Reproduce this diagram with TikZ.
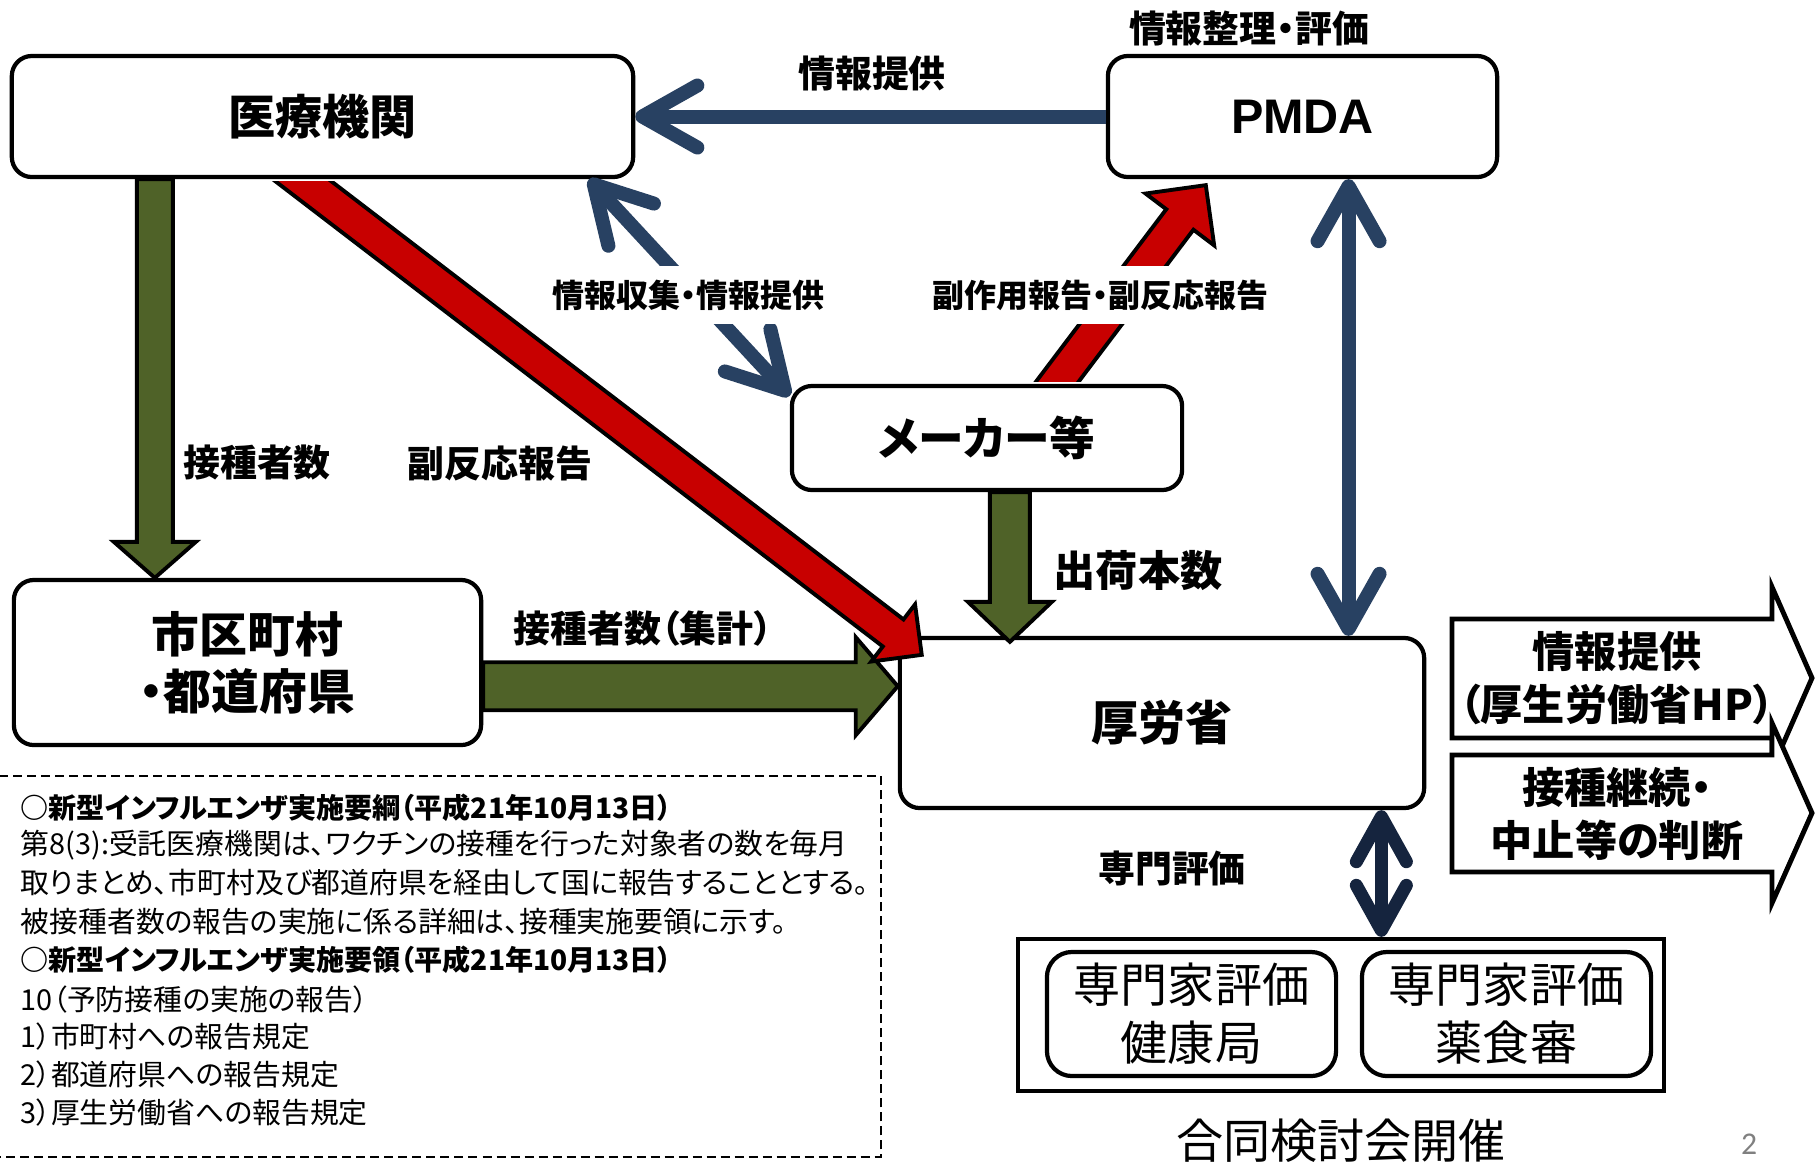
\documentclass[tikz,border=0pt]{standalone}
\usepackage{fontspec}
\setmainfont{Noto Sans CJK JP}[RawFeature=+palt]
\newfontfamily\latinfont{Liberation Sans}
\newfontfamily\pagefont{Carlito}
\usetikzlibrary{calc,positioning,arrows.meta}

\definecolor{infoblue}{RGB}{40,65,98}
\definecolor{deepnavy}{RGB}{21,36,62}
\definecolor{reportred}{RGB}{200,0,0}
\definecolor{countgreen}{RGB}{79,98,40}

% fat outlined arrow: from, to, shaft half width, head half width, head length, style
\newcommand{\fatarrow}[6]{%
  \coordinate (fa-h) at ($(#2)!#5!(#1)$);
  \draw[#6] ($(#1)!#3!90:(#2)$) -- ($(fa-h)!#3!90:(#2)$) -- ($(fa-h)!#4!90:(#2)$)
    -- (#2) -- ($(fa-h)!#4!-90:(#2)$) -- ($(fa-h)!#3!-90:(#2)$) -- ($(#1)!#3!-90:(#2)$) -- cycle;
}

\begin{document}
\begin{tikzpicture}[
    x=0.01cm, y=-0.01cm,
    box/.style={draw,line width=1.2pt,rounded corners=0.2cm,fill=white,inner sep=0pt,
                font=\fontsize{13.4pt}{16pt}\selectfont\bfseries},
    expertbox/.style={box,rounded corners=0.25cm,minimum width=2.89cm,minimum height=1.24cm,
                align=center,font=\fontsize{13.4pt}{16.5pt}\selectfont},
    lbl/.style={inner sep=0pt,font=\fontsize{10.5pt}{12pt}\selectfont\bfseries},
    cutlbl/.style={fill=white,inner xsep=0.04cm,inner ysep=0.14cm,
                font=\fontsize{9.1pt}{11pt}\selectfont\bfseries},
    bluearr/.style={draw=infoblue,line width=0.14cm,
                >={Straight Barb[length=0.55cm,width=0.62cm,round]}},
    navyarr/.style={draw=deepnavy,line width=0.13cm,
                >={Straight Barb[length=0.45cm,width=0.5cm,round]}},
    redfat/.style={fill=reportred,draw=black,line width=1.1pt,line join=miter},
    greenfat/.style={fill=countgreen,draw=black,line width=1.1pt,line join=miter},
    sidearrow/.style={fill=white,draw=black,line width=1.4pt,line join=miter},
    sidetext/.style={align=center,inner sep=0pt,font=\fontsize{12pt}{15pt}\selectfont\bfseries},
    memohead/.style={anchor=west,inner sep=0pt,font=\fontsize{8pt}{9pt}\selectfont\bfseries},
    memoline/.style={anchor=west,inner sep=0pt,font=\fontsize{8.2pt}{9pt}\selectfont}
]
\useasboundingbox (0,0) rectangle (1816,1163);
\coordinate (rightedge) at (1816,1163);

% boxes
\node[box,minimum width=6.21cm,minimum height=1.21cm] (iryo) at (322.5,116.5) {医療機関};
\node[box,minimum width=3.89cm,minimum height=1.21cm,font=\fontsize{13.8pt}{16pt}\latinfont\bfseries] (pmda) at (1302.5,116.5) {PMDA};
\node[box,minimum width=3.90cm,minimum height=1.04cm,font=\fontsize{13pt}{16pt}\selectfont\bfseries] (maker) at (987,438) {メーカー等};
\node[box,minimum width=4.67cm,minimum height=1.65cm,align=center,font=\fontsize{13.6pt}{16.2pt}\selectfont\bfseries] (shiku) at (247.5,662.5) {市区町村\\・都道府県};
\node[box,minimum width=5.24cm,minimum height=1.70cm] (kourou) at (1162,723) {厚労省};
\node[draw,line width=1.2pt,minimum width=6.46cm,minimum height=1.52cm] (senmon) at (1341,1015) {};
\node[expertbox] (kenko) at (1191.5,1014) {専門家評価\\健康局};
\node[expertbox] (yakushoku) at (1506.5,1014) {専門家評価\\薬食審};

% blue info arrows
\draw[bluearr,->] (pmda.west) -- (iryo.east);
\coordinate (c1s) at ($(iryo.south west)!0.926!(iryo.south east)$);
\coordinate (c1e) at ($(maker.north west)+(0,12)$);
\draw[bluearr,<->] (c1s) -- (c1e);
\coordinate (v1s) at ($(pmda.south west)!0.617!(pmda.south east)$);
\coordinate (v1e) at (v1s |- kourou.north);
\draw[bluearr,<->] (v1s) -- (v1e);
\coordinate (n1s) at ($(kourou.south west)!0.915!(kourou.south east)$);
\coordinate (n1e) at (n1s |- senmon.north);
\draw[navyarr,<->] (n1s) -- (n1e);

% fat arrows
\coordinate (g1s) at ($(iryo.south west)!0.232!(iryo.south east)$);
\coordinate (g1e) at (g1s |- shiku.north);
\fatarrow{g1s}{g1e}{0.18cm}{0.41cm}{0.36cm}{greenfat}
\coordinate (g2s) at ($(shiku.north east)!0.64!(shiku.south east)$);
\coordinate (g2e) at (g2s -| kourou.west);
\fatarrow{g2s}{g2e}{0.24cm}{0.49cm}{0.42cm}{greenfat}
\coordinate (g3s) at ($(maker.south west)!0.558!(maker.south east)$);
\coordinate (g3e) at ($(g3s |- kourou.north)+(0,6)$);
\fatarrow{g3s}{g3e}{0.20cm}{0.42cm}{0.40cm}{greenfat}
\coordinate (r1s) at ($(iryo.south west)!0.465!(iryo.south east)$);
\coordinate (r1e) at ($(kourou.north west)+(24,19)$);
\coordinate (r1a) at ($(r1s)!-0.5cm!(r1e)$);
\begin{scope}
  \clip ([yshift=-0.02cm]iryo.south west) rectangle (rightedge);
  \fatarrow{r1a}{r1e}{0.17cm}{0.36cm}{0.36cm}{redfat}
\end{scope}
\coordinate (r2s) at ($(maker.north west)!0.674!(maker.north east)$);
\coordinate (r2e) at ($(pmda.south west)+(100,6)$);
\coordinate (r2a) at ($(r2s)!-0.5cm!(r2e)$);
\begin{scope}
  \clip (0,0) rectangle ([yshift=0.02cm]maker.north -| rightedge);
  \fatarrow{r2a}{r2e}{0.17cm}{0.43cm}{0.43cm}{redfat}
\end{scope}

% labels
\node[lbl] (pmdatitle) at (1249,28) {情報整理・評価};
\node[lbl] (toplbl) at (872,73) {情報提供};
\node[cutlbl] (collectlbl) at (688,295) {情報収集・情報提供};
\node[cutlbl] (sidelbl) at (1100,295) {副作用報告・副反応報告};
\node[lbl] (countlbl) at (257,463) {接種者数};
\node[lbl] (advlbl) at (500,463) {副反応報告};
\node[lbl] (sumlbl) at (643,628) {接種者数（集計）};
\node[lbl,font=\fontsize{12pt}{14pt}\selectfont\bfseries] (shiplbl) at (1138,571) {出荷本数};
\node[lbl] (evallbl) at (1172,868) {専門評価};
\node[inner sep=0pt,font=\fontsize{13.4pt}{16pt}\selectfont] (meeting) at (1341,1141) {合同検討会開催};
\node[inner sep=0pt,text=gray,font=\fontsize{9pt}{10pt}\pagefont] (pagenum) at (1749,1144) {2};

% outcome arrows
\draw[sidearrow] (1452,619) -- (1772,619) -- (1772,587) -- (1812,678) -- (1772,769) -- (1772,738) -- (1452,738) -- cycle;
\draw[sidearrow] (1452,755) -- (1772,755) -- (1772,723) -- (1812,813) -- (1772,903) -- (1772,872) -- (1452,872) -- cycle;
\node[sidetext] (hpinfo) at (1617,678) {情報提供\\（厚生労働省HP）};
\node[sidetext] (judge) at (1617,814) {接種継続・\\中止等の判断};

% memo
\draw[line width=0.6pt,dash pattern=on 0.09cm off 0.05cm] (-5,776) rectangle (881,1157);
\node[memohead] (m1) at (20,808) {○新型インフルエンザ実施要綱（平成21年10月13日）};
\node[memoline] (m2) at (20,845) {第8(3):受託医療機関は、ワクチンの接種を行った対象者の数を毎月};
\node[memoline] (m3) at (20,883) {取りまとめ、市町村及び都道府県を経由して国に報告することとする。};
\node[memoline] (m4) at (20,922) {被接種者数の報告の実施に係る詳細は、接種実施要領に示す。};
\node[memohead] (m5) at (20,960) {○新型インフルエンザ実施要領（平成21年10月13日）};
\node[memoline] (m6) at (20,1000) {10（予防接種の実施の報告）};
\node[memoline] (m7) at (20,1037) {1）市町村への報告規定};
\node[memoline] (m8) at (20,1075) {2）都道府県への報告規定};
\node[memoline] (m9) at (20,1113) {3）厚生労働省への報告規定};
\end{tikzpicture}
\end{document}
